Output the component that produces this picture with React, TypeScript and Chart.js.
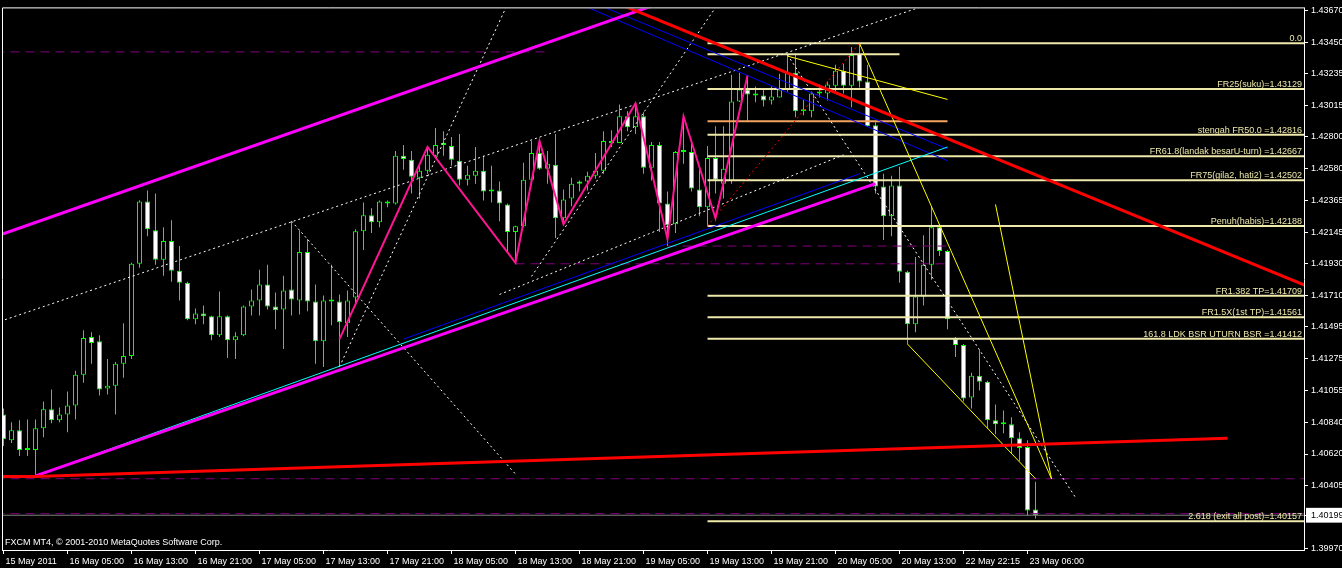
import React, { useEffect, useRef } from 'react';
import { Chart, registerables } from 'chart.js';

Chart.register(...registerables);

// H1 candles, bar 0 = 15 May 2011 21:00, last bar = 23 May 07:00
const opens = [
  1.40892, 1.40715, 1.40784, 1.40647, 1.40647, 1.40797, 1.40927, 1.40852, 1.40892, 1.40954,
  1.41165, 1.41424, 1.41396, 1.4107, 1.4109, 1.4124, 1.41294, 1.41928, 1.42357, 1.42159,
  1.41955, 1.42084, 1.4188, 1.41798, 1.41546, 1.41587, 1.41567, 1.41437, 1.41567, 1.41403,
  1.41437, 1.41635, 1.41676, 1.41785, 1.41635, 1.41614, 1.41751, 1.41676, 1.42009, 1.41669,
  1.41396, 1.41669, 1.41669, 1.41519, 1.41696, 1.42152, 1.42261, 1.42214, 1.42357, 1.42343,
  1.4267, 1.42643, 1.4252, 1.42568, 1.4267, 1.42745, 1.42738, 1.42636, 1.42506, 1.42534,
  1.42568, 1.42425, 1.42432, 1.42336, 1.42146, 1.42186, 1.42506, 1.4269, 1.42581, 1.42609,
  1.42241, 1.42377, 1.42493, 1.42493, 1.42534, 1.42568, 1.42772, 1.42758, 1.42942, 1.42867,
  1.42942, 1.42588, 1.42745, 1.42343, 1.422, 1.42704, 1.42697, 1.42438, 1.42316, 1.42656,
  1.42479, 1.42499, 1.43044, 1.43126, 1.43085, 1.43085, 1.43051, 1.43072, 1.43126, 1.43242,
  1.42976, 1.42976, 1.43099, 1.43099, 1.43153, 1.43256, 1.43153, 1.43371, 1.43181, 1.42881,
  1.42459, 1.42254, 1.42466, 1.41873, 1.41512, 1.41703, 1.41921, 1.4218, 1.42016, 1.4141,
  1.41369, 1.41008, 1.41158, 1.41117, 1.40852, 1.40838, 1.40824, 1.40729, 1.40668, 1.40239,
];
const highs = [
  1.40933, 1.40838, 1.40852, 1.40858, 1.40858, 1.40981, 1.41063, 1.4094, 1.41049, 1.41192,
  1.41471, 1.41458, 1.41437, 1.41274, 1.41253, 1.41519, 1.41935, 1.42364, 1.42432, 1.42411,
  1.4218, 1.42227, 1.4205, 1.41805, 1.41621, 1.41642, 1.4157, 1.41737, 1.41573, 1.41458,
  1.41642, 1.41751, 1.41887, 1.41921, 1.4173, 1.41846, 1.4222, 1.42159, 1.42098, 1.41785,
  1.4171, 1.41921, 1.41716, 1.41744, 1.42166, 1.4235, 1.42309, 1.42363, 1.42363, 1.42704,
  1.42745, 1.42704, 1.42615, 1.42731, 1.42861, 1.4284, 1.42799, 1.4282, 1.42602, 1.42731,
  1.4267, 1.42602, 1.42493, 1.42343, 1.4219, 1.42622, 1.42772, 1.42772, 1.42704, 1.4282,
  1.42438, 1.4252, 1.425, 1.42561, 1.4269, 1.4284, 1.42847, 1.43024, 1.42976, 1.43031,
  1.4297, 1.42765, 1.42765, 1.42425, 1.42704, 1.42942, 1.42772, 1.42581, 1.42738, 1.42874,
  1.42874, 1.43228, 1.43242, 1.43215, 1.43147, 1.43126, 1.43147, 1.43235, 1.43364, 1.43364,
  1.43058, 1.43113, 1.4316, 1.43181, 1.43296, 1.43303, 1.43419, 1.43444, 1.43296, 1.42901,
  1.42547, 1.42534, 1.42595, 1.4188, 1.41975, 1.42125, 1.42323, 1.42186, 1.42023, 1.41424,
  1.41376, 1.41178, 1.41335, 1.41124, 1.40961, 1.4092, 1.40872, 1.4077, 1.40715, 1.40429,
];
const lows = [
  1.40675, 1.40695, 1.40606, 1.40606, 1.4047, 1.40736, 1.40831, 1.40838, 1.4077, 1.40858,
  1.4111, 1.4124, 1.41022, 1.41029, 1.40892, 1.41144, 1.41274, 1.419, 1.42118, 1.41921,
  1.41846, 1.41805, 1.41676, 1.41539, 1.41512, 1.41512, 1.41403, 1.41424, 1.41281, 1.41274,
  1.4143, 1.41573, 1.41573, 1.41614, 1.41478, 1.41342, 1.41573, 1.4158, 1.41601, 1.4124,
  1.41219, 1.41505, 1.41219, 1.41424, 1.41648, 1.42023, 1.42139, 1.4218, 1.42316, 1.42336,
  1.42575, 1.42411, 1.42377, 1.42547, 1.42663, 1.4267, 1.42602, 1.42466, 1.42466, 1.42479,
  1.42363, 1.4235, 1.4222, 1.42002, 1.41934, 1.4218, 1.42493, 1.42575, 1.42479, 1.42105,
  1.42193, 1.42323, 1.42425, 1.42432, 1.42513, 1.42547, 1.42731, 1.42758, 1.4284, 1.4282,
  1.42547, 1.425, 1.42146, 1.4205, 1.42139, 1.42615, 1.42425, 1.42254, 1.42188, 1.42411,
  1.42377, 1.42479, 1.4304, 1.42908, 1.43038, 1.4301, 1.43024, 1.43072, 1.43113, 1.42935,
  1.42949, 1.42935, 1.43072, 1.43051, 1.43113, 1.43099, 1.43004, 1.4314, 1.4287, 1.42411,
  1.42091, 1.42118, 1.41798, 1.41376, 1.41458, 1.41642, 1.41819, 1.41982, 1.41478, 1.41287,
  1.40981, 1.40933, 1.41056, 1.40797, 1.40756, 1.40763, 1.4062, 1.40572, 1.40198, 1.40177,
];
const closes = [
  1.40722, 1.40784, 1.40647, 1.4065, 1.40797, 1.40927, 1.40852, 1.40892, 1.40954, 1.41165,
  1.41417, 1.41383, 1.41063, 1.4109, 1.4124, 1.41294, 1.41928, 1.42357, 1.42166, 1.41955,
  1.42084, 1.4188, 1.41798, 1.41546, 1.41587, 1.41567, 1.41437, 1.41567, 1.41403, 1.4143,
  1.41635, 1.41676, 1.41785, 1.41635, 1.41608, 1.41744, 1.41682, 1.42009, 1.41669, 1.41396,
  1.41676, 1.41672, 1.41526, 1.41676, 1.42152, 1.42261, 1.42214, 1.42357, 1.42343, 1.4267,
  1.42649, 1.42527, 1.42568, 1.42677, 1.42745, 1.42752, 1.42643, 1.42506, 1.4254, 1.42568,
  1.42425, 1.4243, 1.42343, 1.42146, 1.42186, 1.42506, 1.4269, 1.42581, 1.42615, 1.42241,
  1.4237, 1.42479, 1.42479, 1.42534, 1.42568, 1.42772, 1.42758, 1.42942, 1.42867, 1.42942,
  1.42588, 1.42745, 1.42343, 1.42193, 1.42697, 1.42697, 1.42445, 1.42316, 1.42656, 1.42506,
  1.42581, 1.43044, 1.43126, 1.43092, 1.43088, 1.43051, 1.43078, 1.43126, 1.43242, 1.42976,
  1.42983, 1.43099, 1.43102, 1.4316, 1.43256, 1.43153, 1.43364, 1.43181, 1.42874, 1.42459,
  1.42254, 1.42466, 1.41873, 1.41512, 1.41703, 1.41921, 1.4218, 1.42016, 1.41546, 1.41369,
  1.41001, 1.41158, 1.41117, 1.40852, 1.40824, 1.40824, 1.40729, 1.40661, 1.40232, 1.40199,
];

// time axis
const timeTickBars = [0, 8, 16, 24, 32, 40, 48, 56, 64, 72, 80, 88, 96, 104, 112, 120, 128];
const timeLabels = [
  '15 May 2011', '16 May 05:00', '16 May 13:00', '16 May 21:00', '17 May 05:00', '17 May 13:00',
  '17 May 21:00', '18 May 05:00', '18 May 13:00', '18 May 21:00', '19 May 05:00', '19 May 13:00',
  '19 May 21:00', '20 May 05:00', '20 May 13:00', '22 May 22:15', '23 May 06:00',
];

// price axis
const priceTicks = [
  1.4367, 1.4345, 1.43235, 1.43015, 1.428, 1.4258, 1.42365, 1.42145, 1.4193,
  1.4171, 1.41495, 1.41275, 1.41055, 1.4084, 1.4062, 1.40405, 1.40199, 1.3997,
];
const lastPrice = 1.40199;

// Fibonacci expansion drawn from bar 88 low to bar 107 high
const fibStartBar = 88;
const fibPrices = [1.43444, 1.43129, 1.42816, 1.42667, 1.42502, 1.42188, 1.41709, 1.41561, 1.41412, 1.40157];
const fibLabels = [
  '0.0',
  'FR25(suku)=1.43129',
  'stengah FR50.0 =1.42816',
  'FR61.8(landak besarU-turn) =1.42667',
  'FR75(gila2, hati2) =1.42502',
  'Penuh(habis)=1.42188',
  'FR1.382 TP=1.41709',
  'FR1.5X(1st TP)=1.41561',
  '161.8 LDK BSR UTURN BSR =1.41412',
  '2.618 (exit all post)=1.40157',
];
const fibTrend: [number, number][] = [[88, 1.42188], [107, 1.43444]];

// trend lines as [bar, price] anchors
const channelTop: [number, number][] = [[-1, 1.42115], [81, 1.437]];
const channelBottom: [number, number][] = [[4, 1.4047], [109, 1.42479]];
const cyanTrend: [number, number][] = [[4, 1.4047], [118, 1.42731]];
const blueRising: [number, number][] = [[50, 1.4141], [107, 1.42547]];
const blueFallingA: [number, number][] = [[72, 1.43715], [118, 1.42636]];
const blueFallingB: [number, number][] = [[74, 1.43717], [118, 1.42718]];
const redFalling: [number, number][] = [[77, 1.43714], [163, 1.41773]];
const redSupport: [number, number][] = [[-1, 1.40466], [4, 1.40466], [153, 1.40729]];
const zigzag: [number, number][] = [
  [42, 1.4141], [53, 1.42731], [64, 1.41935], [67, 1.42772], [70, 1.422],
  [79, 1.43031], [83, 1.42098], [85, 1.42942], [89, 1.42241], [93, 1.43222],
];
const dottedMedian: [number, number][] = [[-1, 1.41521], [116, 1.43719]];
const dottedB: [number, number][] = [[66, 1.41841], [90, 1.4377]];
const dottedC: [number, number][] = [[62, 1.41717], [105, 1.42677]];
const dottedD: [number, number][] = [[42, 1.4122], [63, 1.43713]];
const dottedE: [number, number][] = [[36, 1.42221], [64, 1.40482]];
const dottedF: [number, number][] = [[98, 1.43365], [134, 1.40321]];
const yellowA: [number, number][] = [[98, 1.43356], [118, 1.43058]];
const yellowB: [number, number][] = [[107, 1.43444], [131, 1.4045]];
const yellowC: [number, number][] = [[113, 1.41376], [129, 1.4045]];
const yellowD: [number, number][] = [[124, 1.42336], [131, 1.4045]];

// horizontal levels: [price, fromBar, toBar]
const paleLevel: [number, number, number] = [1.43368, 88, 112];
const orangeLevel: [number, number, number] = [1.42908, 88, 118];
const purpleLevels: [number, number, number][] = [
  [1.43385, -1, 68],
  [1.41928, 64, 118],
  [1.4205, 83, 118],
  [1.4045, -1, 163],
  [1.4021, -1, 163],
];

const copyright = 'FXCM MT4, \u00A9 2001-2010 MetaQuotes Software Corp.';

const GREEN = '#00ff00';
const FIB = '#eee8aa';
const FONT = '"Liberation Sans", Arial, sans-serif';
const X_MIN = -0.0625;
const X_MAX = 162.5625;
const RIGHT_EDGE_BAR = 163;

const toXY = (pts: [number, number][]) => pts.map(([x, y]) => ({ x, y }));

function lineSet(pts: [number, number][], color: string, width: number, dash: number[] = [], order = 5) {
  return {
    type: 'line' as const,
    data: toXY(pts),
    borderColor: color,
    borderWidth: width,
    borderDash: dash,
    pointRadius: 0,
    pointHoverRadius: 0,
    fill: false,
    tension: 0,
    order,
  };
}

function levelSet(price: number, from: number, to: number, color: string, width: number, dash: number[] = [], order = 6) {
  return lineSet([[from, price], [to, price]], color, width, dash, order);
}

const backgroundPlugin = {
  id: 'blackBackground',
  beforeDraw(chart: any) {
    const { ctx, width, height } = chart;
    ctx.save();
    ctx.fillStyle = '#000000';
    ctx.fillRect(0, 0, width, height);
    ctx.restore();
  },
};

const framePlugin = {
  id: 'chartFrame',
  afterDraw(chart: any) {
    const { ctx, chartArea } = chart;
    ctx.save();
    ctx.strokeStyle = '#ffffff';
    ctx.lineWidth = 1;
    ctx.beginPath();
    ctx.moveTo(chartArea.left - 0.5, chartArea.bottom + 1);
    ctx.lineTo(chartArea.left - 0.5, chartArea.top - 0.5);
    ctx.lineTo(chartArea.right + 1, chartArea.top - 0.5);
    ctx.stroke();
    ctx.restore();
  },
};

const textPlugin = {
  id: 'levelText',
  afterDatasetsDraw(chart: any) {
    const { ctx, chartArea } = chart;
    const y = chart.scales.y;
    ctx.save();
    ctx.font = `9px ${FONT}`;
    ctx.fillStyle = FIB;
    ctx.textAlign = 'right';
    ctx.textBaseline = 'alphabetic';
    fibPrices.forEach((p, k) => {
      ctx.fillText(fibLabels[k], chartArea.right - 2, Math.round(y.getPixelForValue(p)) - 2);
    });
    ctx.fillStyle = '#ffffff';
    ctx.textAlign = 'left';
    ctx.fillText(copyright, 5, chartArea.bottom - 5);
    ctx.restore();
  },
};

export default function App() {
  const canvasRef = useRef<HTMLCanvasElement | null>(null);

  useEffect(() => {
    const canvas = canvasRef.current;
    if (!canvas) return;

    const idx = opens.map((_, i) => i);
    const wickData = idx.map((i) => ({ x: i, y: [lows[i], highs[i]] }));
    const bodyData = idx.map((i) => ({ x: i, y: [opens[i], closes[i]] }));
    const bodyFill = idx.map((i) => (closes[i] < opens[i] ? '#ffffff' : '#000000'));

    const datasets: any[] = [
      {
        type: 'bar',
        data: wickData,
        backgroundColor: GREEN,
        borderWidth: 0,
        barThickness: 1,
        grouped: false,
        inflateAmount: 0,
        order: 20,
      },
      {
        type: 'bar',
        data: bodyData,
        backgroundColor: bodyFill,
        borderColor: GREEN,
        borderWidth: 1,
        borderSkipped: false,
        barThickness: 5,
        minBarLength: 2,
        grouped: false,
        inflateAmount: 0,
        order: 19,
      },
      // horizontal dashed levels and bid line
      ...purpleLevels.map(([p, a, b]) => levelSet(p, a, b, '#800080', 1, [9, 6], 9)),
      levelSet(lastPrice, -1, RIGHT_EDGE_BAR, '#808080', 1, [], 9),
      // Fibonacci levels
      ...fibPrices.map((p) => levelSet(p, fibStartBar, RIGHT_EDGE_BAR, FIB, 2, [], 8)),
      levelSet(paleLevel[0], paleLevel[1], paleLevel[2], FIB, 2, [], 8),
      levelSet(orangeLevel[0], orangeLevel[1], orangeLevel[2], '#f4a460', 2, [], 8),
      lineSet(fibTrend, '#ff0000', 1, [2, 3], 7),
      // white dotted guides
      lineSet(dottedMedian, '#ffffff', 1, [2, 3], 7),
      lineSet(dottedB, '#ffffff', 1, [2, 3], 7),
      lineSet(dottedC, '#ffffff', 1, [2, 3], 7),
      lineSet(dottedD, '#ffffff', 1, [2, 3], 7),
      lineSet(dottedE, '#ffffff', 1, [2, 3], 7),
      lineSet(dottedF, '#ffffff', 1, [2, 3], 7),
      // thin trend lines
      lineSet(blueRising, '#0000ff', 1, [], 6),
      lineSet(blueFallingA, '#0000ff', 1, [], 6),
      lineSet(blueFallingB, '#0000ff', 1, [], 6),
      lineSet(cyanTrend, '#00ffff', 1, [], 5),
      lineSet(yellowA, '#ffff00', 1, [], 4),
      lineSet(yellowB, '#ffff00', 1, [], 4),
      lineSet(yellowC, '#ffff00', 1, [], 4),
      lineSet(yellowD, '#ffff00', 1, [], 4),
      // heavy channel / trend lines
      lineSet(zigzag, '#ff1493', 2, [], 3),
      lineSet(channelTop, '#ff00ff', 3, [], 2),
      lineSet(channelBottom, '#ff00ff', 3, [], 2),
      lineSet(redFalling, '#ff0000', 3, [], 1),
      lineSet(redSupport, '#ff0000', 3, [], 1),
    ];

    const chart = new Chart(canvas, {
      type: 'bar',
      data: { datasets },
      options: {
        responsive: false,
        animation: false,
        devicePixelRatio: 1,
        events: [],
        layout: { padding: { left: 3, top: 3, right: 0, bottom: 0 } },
        plugins: { legend: { display: false }, tooltip: { enabled: false } },
        scales: {
          x: {
            type: 'linear',
            position: 'bottom',
            min: X_MIN,
            max: X_MAX,
            bounds: 'data',
            offset: false,
            afterFit: (s: any) => {
              s.height = 18;
            },
            afterBuildTicks: (s: any) => {
              s.ticks = timeTickBars.map((v) => ({ value: v }));
            },
            grid: { display: true, offset: false, drawOnChartArea: false, drawTicks: true, tickLength: 4, color: '#ffffff', lineWidth: 1 },
            border: { display: true, color: '#ffffff', width: 1 },
            ticks: {
              color: '#ffffff',
              font: { family: FONT, size: 9 },
              align: 'start',
              labelOffset: 2,
              padding: 2,
              maxRotation: 0,
              autoSkip: false,
              callback: (_v: any, i: number) => timeLabels[i],
            },
          },
          y: {
            type: 'linear',
            position: 'right',
            min: 1.3996,
            max: 1.43684,
            bounds: 'data',
            afterFit: (s: any) => {
              s.width = 38;
            },
            afterBuildTicks: (s: any) => {
              s.ticks = priceTicks.map((v) => ({ value: v }));
            },
            grid: { display: true, drawOnChartArea: false, drawTicks: true, tickLength: 4, color: '#ffffff', lineWidth: 1 },
            border: { display: true, color: '#ffffff', width: 1 },
            ticks: {
              font: { family: FONT, size: 9 },
              padding: 3,
              autoSkip: false,
              color: (c: any) => (c.tick && c.tick.value === lastPrice ? '#000000' : '#ffffff'),
              showLabelBackdrop: (c: any) => !!(c.tick && c.tick.value === lastPrice),
              backdropColor: '#ffffff',
              backdropPadding: { left: 5, right: 6, top: 2, bottom: 2 },
              callback: (v: any) => Number(v).toFixed(5),
            },
          },
        },
      } as any,
      plugins: [backgroundPlugin, framePlugin, textPlugin],
    });

    return () => chart.destroy();
  }, []);

  return (
    <div style={{ position: 'fixed', left: 0, top: 0, width: 1342, height: 568, background: '#000000' }}>
      <canvas ref={canvasRef} width={1342} height={568} style={{ display: 'block' }} />
    </div>
  );
}
